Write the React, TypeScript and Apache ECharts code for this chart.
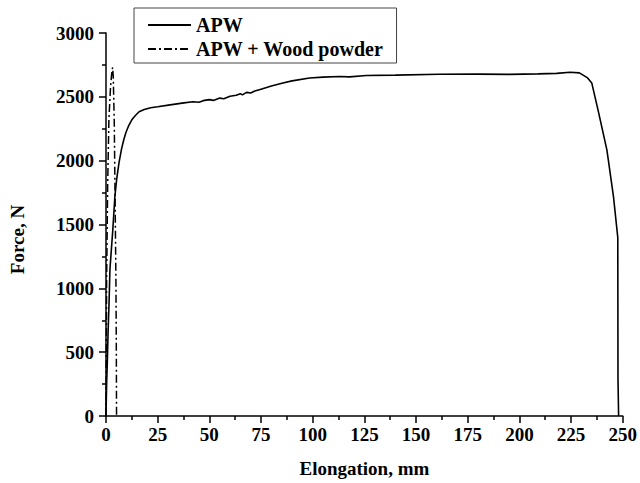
import React, { useEffect, useRef } from "react";
import * as echarts from "echarts";

const seriesNames = ["APW", "APW + Wood powder"];

const apwX = [0, 0.3, 0.6, 1.0, 1.5, 1.9, 2.4, 3.3, 4.3, 5.2, 6.3, 7.5, 8.6, 9.6, 11, 12.5, 14, 16, 18.5, 21.6, 25, 31, 37.7, 42, 45, 47, 50, 52, 55, 57, 60, 63, 65, 66, 68, 70, 72, 75, 80, 85.6, 90, 98.5, 105, 113, 117.8, 126, 140, 161, 180, 195, 209, 218, 224.5, 229, 233, 235, 238, 242.3, 243, 245.5, 247.6, 247.7, 248];
const apwY = [0, 250, 400, 650, 900, 1148, 1260, 1461, 1719, 1860, 1984, 2090, 2164, 2219, 2275, 2320, 2350, 2383, 2400, 2414, 2422, 2437, 2453, 2462, 2458, 2470, 2478, 2472, 2490, 2485, 2505, 2512, 2525, 2515, 2535, 2530, 2545, 2560, 2585, 2609, 2625, 2648, 2654, 2659, 2656, 2667, 2670, 2677, 2678, 2676, 2680, 2684, 2693, 2688, 2648, 2609, 2400, 2086, 2008, 1720, 1398, 290, 0];

const woodX = [0, 0.15, 0.3, 0.8, 1.4, 2.2, 2.8, 3.2, 3.5, 3.8, 4.0, 4.4, 4.8, 5.0, 5.1];
const woodY = [0, 500, 1070, 1800, 2320, 2580, 2690, 2730, 2660, 2450, 2300, 1700, 1070, 500, 0];

const xTicks = { min: 0, max: 250, interval: 25 };
const yTicks = { min: 0, max: 3000, interval: 500 };

const FONT = "Liberation Serif";

export default function App() {
  const ref = useRef<HTMLDivElement>(null);
  useEffect(() => {
    if (!ref.current) return;
    const chart = echarts.init(ref.current, undefined, { renderer: "svg" });
    const axisCommon = {
      axisLine: { show: true, onZero: false, lineStyle: { color: "#000", width: 1.5 } },
      axisTick: { show: true, inside: false, length: 7, lineStyle: { color: "#000", width: 1.5 } },
      minorTick: { show: true, splitNumber: 2, length: 4, lineStyle: { color: "#000", width: 1.5 } },
      splitLine: { show: false },
    };
    const labelStyle = { fontFamily: FONT, fontWeight: "bold", fontSize: 19, color: "#000" };
    chart.setOption({
      animation: false,
      backgroundColor: "#fff",
      grid: { left: 105, right: 15, top: 33, bottom: 66, containLabel: false },
      legend: {
        orient: "vertical",
        left: 134,
        top: 8,
        padding: [7, 13, 4, 13],
        itemWidth: 43,
        itemHeight: 14,
        itemGap: 4,
        borderColor: "#444",
        borderWidth: 1,
        data: seriesNames,
        itemStyle: { opacity: 0 },
        textStyle: { fontFamily: FONT, fontWeight: "bold", fontSize: 20, color: "#000" },
      },
      xAxis: {
        type: "value",
        ...xTicks,
        ...axisCommon,
        name: "Elongation, mm",
        nameLocation: "middle",
        nameGap: 43,
        nameTextStyle: { fontFamily: FONT, fontWeight: "bold", fontSize: 19, color: "#000" },
        axisLabel: { ...labelStyle, margin: 9, formatter: (v: number) => String(v) },
      },
      yAxis: {
        type: "value",
        ...yTicks,
        ...axisCommon,
        name: "Force, N",
        nameLocation: "middle",
        nameGap: 79,
        nameTextStyle: { fontFamily: FONT, fontWeight: "bold", fontSize: 19, color: "#000", padding: [0, 30, 0, 0] },
        axisLabel: { ...labelStyle, margin: 12, formatter: (v: number) => String(v) },
      },
      series: [
        {
          name: seriesNames[0],
          type: "line",
          data: apwX.map((x, i) => [x, apwY[i]]),
          showSymbol: false,
          symbol: "none",
          smooth: false,
          lineStyle: { color: "#000", width: 1.6, type: "solid" },
          itemStyle: { color: "#000" },
        },
        {
          name: seriesNames[1],
          type: "line",
          data: woodX.map((x, i) => [x, woodY[i]]),
          showSymbol: false,
          symbol: "none",
          smooth: false,
          lineStyle: { color: "#000", width: 1.5, type: [8, 3, 2, 3] },
          itemStyle: { color: "#000" },
        },
      ],
    });
    return () => chart.dispose();
  }, []);
  return (
    <div
      ref={ref}
      style={{ position: "fixed", left: 0, top: 0, width: 640, height: 483, background: "#fff" }}
    />
  );
}
